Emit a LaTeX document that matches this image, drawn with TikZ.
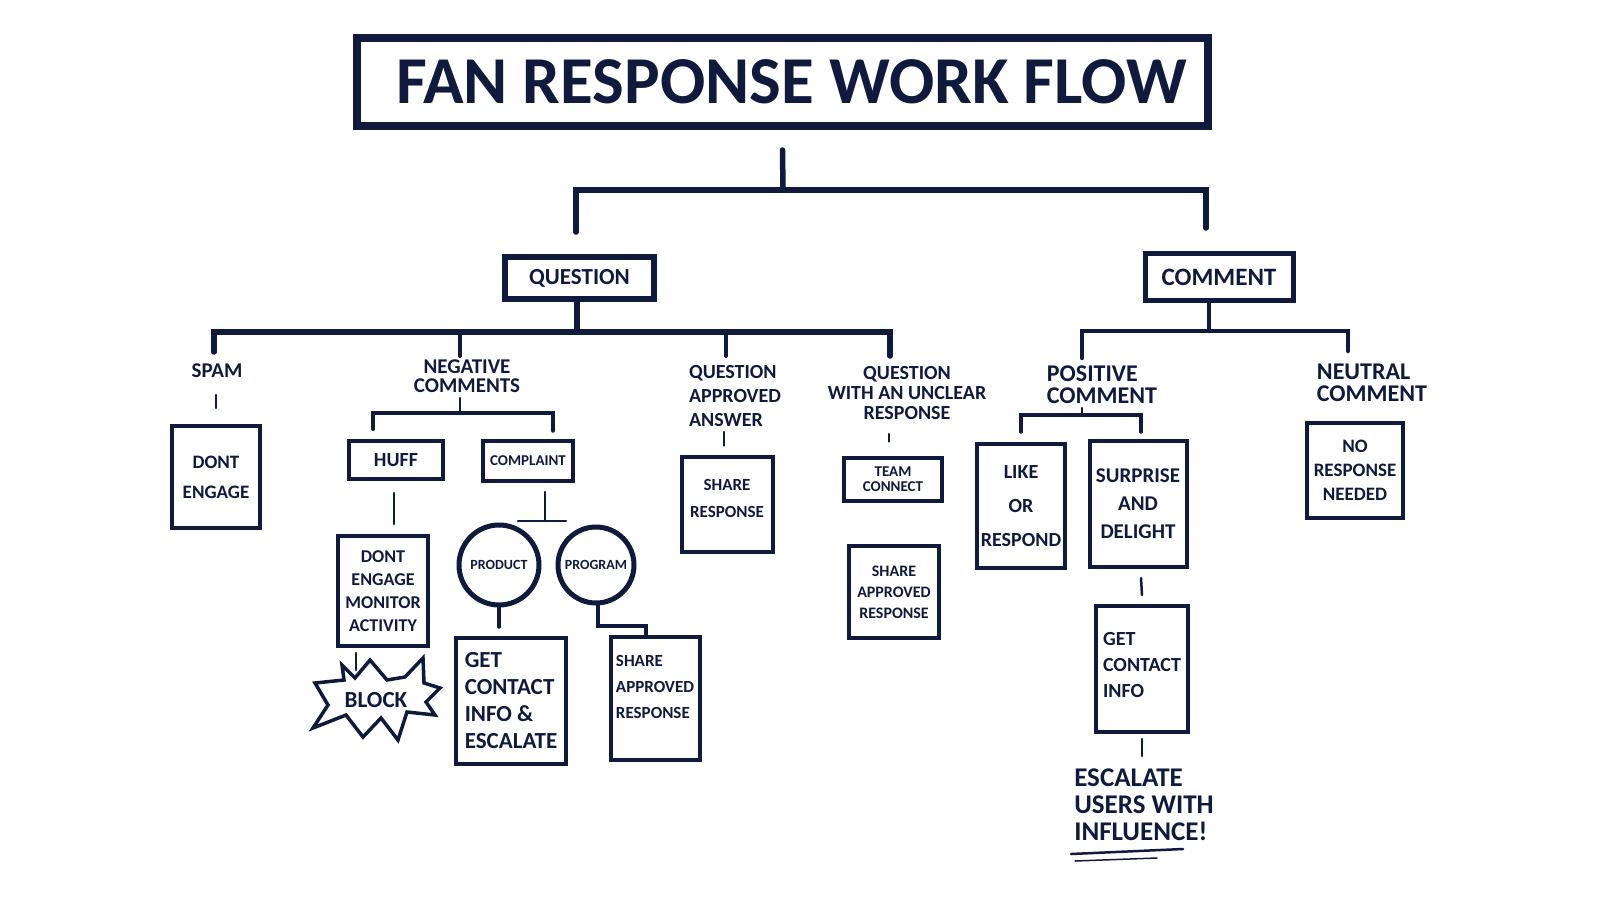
\documentclass[tikz,border=0pt]{standalone}
\usepackage{fontspec}
\setmainfont{Carlito}
\usetikzlibrary{positioning}
\definecolor{ink}{HTML}{101A3C}
\newcommand{\penfont}[2]{\fontsize{#1}{#2}\selectfont\bfseries}

\begin{document}
\begin{tikzpicture}[x=1pt, y=-1pt, text=ink,
    box/.style={draw=ink, line width=4pt, align=center, inner sep=0pt},
    lab/.style={align=center, inner sep=0pt},
    bar/.style={draw=ink, line width=5.5pt, line cap=round},
    tick/.style={draw=ink, line width=2.5pt, line cap=round},
    brace/.style={draw=ink, line width=3.5pt, line cap=round}
]
    \useasboundingbox (0,0) rectangle (1620,911);

    \node[box, line width=8pt, minimum width=851pt, minimum height=88pt, font=\penfont{67}{72}] (title) at (782.5,82) {\hspace*{18pt}FAN RESPONSE WORK FLOW};

    \node[box, line width=6pt, minimum width=149pt, minimum height=42pt, font=\penfont{23}{25}] (question) at (579.5,278) {QUESTION};
    \node[box, line width=5pt, minimum width=148pt, minimum height=47pt, font=\penfont{25}{27}] (comment) at (1219,277) {COMMENT};

    \node[lab, font=\penfont{21}{22}] (spam) at (217,371) {SPAM};
    \node[lab, font=\penfont{21}{19}] (negative) at (467,376) {NEGATIVE\\COMMENTS};
    \node[lab, align=left, font=\penfont{20}{24}] (approved) at (735,396) {QUESTION\\APPROVED\\ANSWER};
    \node[lab, font=\penfont{20}{20}] (unclear) at (907,393) {QUESTION\\WITH AN UNCLEAR\\RESPONSE};
    \node[lab, align=left, font=\penfont{24}{22}] (positive) at (1102,385) {POSITIVE\\COMMENT};
    \node[lab, align=left, font=\penfont{24}{22}] (neutral) at (1372,383) {NEUTRAL\\COMMENT};

    \node[box, minimum width=88pt, minimum height=102pt, font=\penfont{19}{30}] (dont) at (216,477) {DONT\\ENGAGE};
    \node[box, line width=3.5pt, minimum width=94pt, minimum height=38pt, font=\penfont{20}{22}] (huff) at (396,460) {HUFF};
    \node[box, minimum width=90pt, minimum height=40pt, font=\penfont{15}{17}] (complaint) at (528,461) {COMPLAINT};
    \node[box, minimum width=90pt, minimum height=110pt, font=\penfont{18}{23}] (monitor) at (383,591) {DONT\\ENGAGE\\MONITOR\\ACTIVITY};
    \node[box, line width=5pt, circle, minimum size=80pt, font=\penfont{14}{15}] (product) at (499,565) {PRODUCT};
    \node[box, line width=5pt, circle, minimum size=76pt, font=\penfont{14}{15}] (program) at (596,565) {PROGRAM};
    \node[box, line width=4.5pt, align=left, minimum width=110pt, minimum height=126pt, font=\penfont{23}{27}] (escalate) at (511,701) {GET\\CONTACT\\INFO \&\\ESCALATE};
    \node[box, align=left, minimum width=89pt, minimum height=123pt, font=\penfont{17}{26}] (shareprog) at (655,698) {SHARE\\APPROVED\\RESPONSE\\[-3pt]};

    \draw[draw=ink, line width=3.5pt, line join=miter, fill=white] (315,683) -- (344,680) -- (342,665) -- (355,678) -- (370,660) -- (387,680) -- (405,677) -- (423,658) -- (424,683) -- (440,688) -- (426,702) -- (435,715) -- (407,712) -- (398,740) -- (381,718) -- (363,737) -- (346,715) -- (313,728) -- (328,705) -- cycle;
    \node[lab, font=\penfont{23}{24}] (block) at (376,700) {BLOCK};

    \node[box, minimum width=91pt, minimum height=95pt, font=\penfont{17}{27}] (share) at (727,504) {SHARE\\RESPONSE\\[-15pt]};
    \node[box, minimum width=98pt, minimum height=43pt, font=\penfont{15}{15}] (team) at (893,479) {TEAM\\CONNECT};
    \node[box, minimum width=90pt, minimum height=92pt, font=\penfont{16}{21}] (shareteam) at (894,592) {SHARE\\APPROVED\\RESPONSE};

    \node[box, minimum width=88pt, minimum height=124pt, font=\penfont{20}{34}] (like) at (1021,506) {LIKE\\OR\\RESPOND};
    \node[box, minimum width=97pt, minimum height=126pt, font=\penfont{21}{28}] (surprise) at (1138,504) {SURPRISE\\AND\\DELIGHT};
    \node[box, align=left, minimum width=92pt, minimum height=126pt, font=\penfont{20}{26}] (contact) at (1142,669) {GET\\CONTACT\\INFO\\[-18pt]};
    \node[lab, align=left, font=\penfont{27}{27}] (influence) at (1144,805) {ESCALATE\\USERS WITH\\INFLUENCE!};
    \node[box, minimum width=96pt, minimum height=95pt, font=\penfont{19}{24}] (noneed) at (1355,470) {NO\\RESPONSE\\NEEDED};

    \coordinate (trunk) at (783,190);
    \coordinate (qtop) at (576,232);
    \coordinate (ctop) at (1206,228);
    \draw[bar] ([yshift=-20pt]title.south) -- (trunk);
    \draw[bar] (qtop) |- (trunk) -| (ctop);

    \coordinate (qbar) at (577,332);
    \coordinate (qspam) at (214,352);
    \coordinate (qneg) at (460,356);
    \coordinate (qapp) at (726,356);
    \coordinate (qunc) at (890,356);
    \draw[bar] (question.south -| qbar) -- (qbar);
    \draw[bar] (qspam) |- (qbar) -| (qunc);
    \draw[bar, line width=4pt] (qneg) -- (qneg |- qbar);
    \draw[bar, line width=4pt] (qapp) -- (qapp |- qbar);

    \coordinate (cbar) at (1209,331);
    \coordinate (cpos) at (1082,358);
    \coordinate (cneu) at (1348,351);
    \draw[bar, line width=4.5pt] (comment.south -| cbar) -- (cbar);
    \draw[bar, line width=4.5pt] (cpos) |- (cbar) -| (cneu);

    \coordinate (spamtick) at (216,395);
    \draw[tick] (spamtick) -- ([yshift=16pt]dont.north);

    \coordinate (negtick) at (460,398);
    \coordinate (negbar) at (460,413);
    \draw[tick] (negtick) -- (negbar);
    \draw[brace] ([xshift=-23pt,yshift=10pt]huff.north) |- (negbar) -| ([xshift=25pt,yshift=8pt]complaint.north);

    \coordinate (hufftick) at (394,493);
    \draw[tick] (hufftick) -- (hufftick |- 0,524);

    \coordinate (comptick) at (545,492);
    \coordinate (tbar) at (545,521);
    \coordinate (tleft) at (518,521);
    \coordinate (tright) at (566,521);
    \draw[tick] (comptick) -- (tbar);
    \draw[tick] (tleft) -- (tright);

    \coordinate (montick) at (356,653);
    \draw[tick] (montick) -- (montick |- 0,670);

    \draw[brace, line width=4pt] (product.south) -- ([xshift=-12pt,yshift=9pt]escalate.north);
    \coordinate (progdrop) at (598,626);
    \draw[brace] (program.south -| progdrop) -- (progdrop) -| ([xshift=-9pt]shareprog.north);

    \coordinate (apptick) at (724,432);
    \draw[tick] (apptick) -- ([xshift=-3pt,yshift=9pt]share.north);

    \coordinate (unctick) at (889,434);
    \draw[tick] (unctick) -- ([xshift=-4pt,yshift=14pt]team.north);

    \coordinate (postick) at (1082,408);
    \coordinate (posbar) at (1082,415);
    \draw[tick] (postick) -- (posbar);
    \draw[brace] ([yshift=10pt]like.north) |- (posbar) -| ([xshift=3pt,yshift=7pt]surprise.north);

    \draw[tick] ([xshift=3pt,yshift=-9pt]surprise.south) -- ([yshift=9pt]contact.north);
    \coordinate (inftick) at (1142,756);
    \draw[tick] ([yshift=-5pt]contact.south) -- (inftick);

    \draw[tick] (1071,854) -- (1183,849);
    \draw[tick, line width=1.5pt] (1075,861) -- (1157,858);
\end{tikzpicture}
\end{document}
